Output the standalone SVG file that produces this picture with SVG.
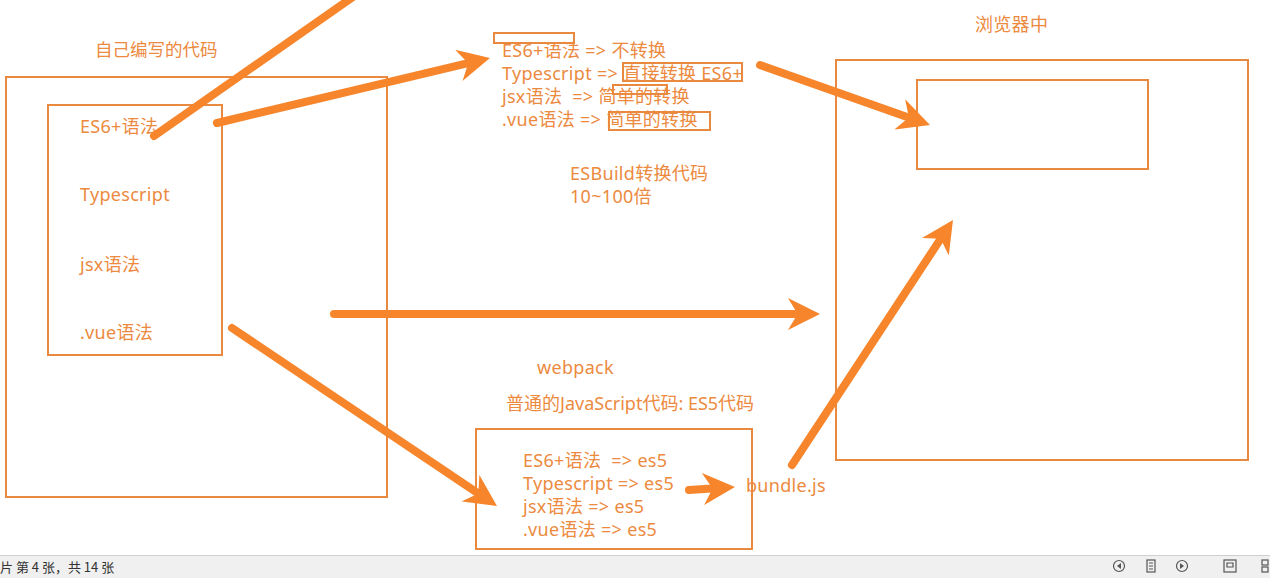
<svg xmlns="http://www.w3.org/2000/svg" width="1270" height="578" viewBox="0 0 1270 578">
<style>
.box{fill:none;stroke:#E8893F;stroke-width:2}
.t{font-family:"Noto Sans","Noto Sans CJK SC",sans-serif;font-size:18px;letter-spacing:0.3px;fill:#EC8A40;white-space:pre}
.arr{fill:none;stroke:#F7852B;stroke-width:8;stroke-linecap:round}
.st{font-family:"Noto Sans CJK SC",sans-serif;font-size:13px;fill:#333}
.ic{fill:none;stroke:#555;stroke-width:1.2}
</style>
<defs>
<marker id="ah" viewBox="0 0 10 10" markerUnits="strokeWidth" markerWidth="4" markerHeight="4" refX="5" refY="5" orient="auto">
<path d="M0,0 L10,5 L0,10 L3,5 z" fill="#F7852B"/>
</marker>
</defs>
<rect width="1270" height="578" fill="#fff"/>

<g id="own-code">
<text class="t" x="95" y="56" style="font-size:17.5px;letter-spacing:0">自己编写的代码</text>
<rect class="box" x="6" y="77" width="381" height="420"/>
<rect class="box" x="48" y="105" width="174" height="250"/>
<text class="t" x="80" y="133">ES6+语法</text>
<text class="t" x="80" y="201">Typescript</text>
<text class="t" x="80" y="271">jsx语法</text>
<text class="t" x="80" y="339">.vue语法</text>
</g>

<g id="esbuild">
<rect class="box" x="494" y="33" width="80" height="10"/>
<rect class="box" x="623" y="63" width="119" height="18"/>
<rect class="box" x="613" y="85" width="54" height="9"/>
<rect class="box" x="609" y="112" width="101" height="18"/>
<text class="t" x="502" y="57">ES6+语法 =&gt; 不转换</text>
<text class="t" x="502" y="80">Typescript =&gt; 直接转换 ES6+</text>
<text class="t" x="502" y="103" xml:space="preserve">jsx语法  =&gt; 简单的转换</text>
<text class="t" x="502" y="126">.vue语法 =&gt; 简单的转换</text>
<text class="t" x="570" y="180">ESBuild转换代码</text>
<text class="t" x="570" y="203">10~100倍</text>
</g>

<g id="browser">
<text class="t" x="975" y="31">浏览器中</text>
<rect class="box" x="836" y="60" width="412" height="400"/>
<rect class="box" x="917" y="80" width="231" height="89"/>
</g>

<g id="webpack">
<text class="t" x="537" y="374">webpack</text>
<text class="t" x="506" y="410" style="letter-spacing:0">普通的JavaScript代码: ES5代码</text>
<rect class="box" x="476" y="429" width="276" height="120"/>
<text class="t" x="523" y="467" xml:space="preserve">ES6+语法  =&gt; es5</text>
<text class="t" x="523" y="490">Typescript =&gt; es5</text>
<text class="t" x="523" y="513">jsx语法 =&gt; es5</text>
<text class="t" x="523" y="536">.vue语法 =&gt; es5</text>
</g>

<g id="bundle">
<text class="t" x="746" y="492">bundle.js</text>
</g>

<g id="connectors">
<line class="arr" x1="154" y1="136" x2="360" y2="-8"/>
<line class="arr" x1="217" y1="123" x2="474.4" y2="61.7" marker-end="url(#ah)"/>
<line class="arr" x1="760" y1="65" x2="914.9" y2="119.7" marker-end="url(#ah)"/>
<line class="arr" x1="334" y1="314" x2="804" y2="314" marker-end="url(#ah)"/>
<line class="arr" x1="232" y1="328" x2="483.7" y2="497.1" marker-end="url(#ah)"/>
<line class="arr" x1="689" y1="490" x2="719" y2="488" marker-end="url(#ah)"/>
<line class="arr" x1="792" y1="465" x2="944.2" y2="233.4" marker-end="url(#ah)"/>
</g>

<g id="statusbar">
<rect x="0" y="555" width="1270" height="23" fill="#F0F0F0"/>
<line x1="0" y1="555.5" x2="1270" y2="555.5" stroke="#CFCFCF" stroke-width="1"/>
<text class="st" x="0" y="572">片 第 4 张，共 14 张</text>
<circle class="ic" cx="1119" cy="566" r="5.5"/>
<path d="M1121,563 L1117,566 L1121,569 z" fill="#555"/>
<rect class="ic" x="1147" y="560" width="8" height="12"/>
<path class="ic" d="M1149,563 H1153 M1149,566 H1153 M1149,569 H1153"/>
<circle class="ic" cx="1182" cy="566" r="5.5"/>
<path d="M1180,563 L1184,566 L1180,569 z" fill="#555"/>
<rect class="ic" x="1224" y="560" width="12" height="12"/>
<path class="ic" d="M1227,563 H1233 V567 H1227 z"/>
<rect class="ic" x="1262" y="560" width="6" height="5"/>
<rect class="ic" x="1262" y="567" width="6" height="5"/>
</g>
</svg>
